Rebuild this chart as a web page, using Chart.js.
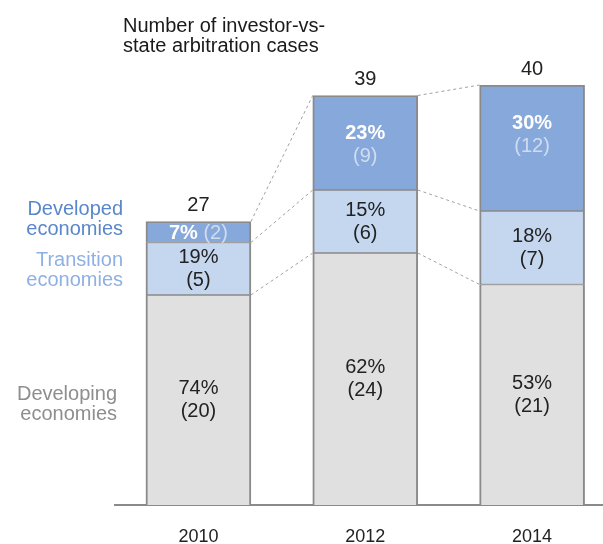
<!DOCTYPE html>
<html>
<head>
<meta charset="utf-8">
<script src="https://cdn.jsdelivr.net/npm/chart.js@4.4.1/dist/chart.umd.min.js"></script>
<style>
  html, body { margin: 0; padding: 0; background: #fff; overflow: hidden; }
</style>
</head>
<body>
<canvas id="casesChart" width="603" height="544"></canvas>
<script>
// Dane wykresu
const years = [2010, 2012, 2014];
const developing = [20, 24, 21];
const transition = [5, 6, 7];
const developed = [2, 9, 12];
const developingPct = ['74%', '62%', '53%'];
const transitionPct = ['19%', '15%', '18%'];
const developedPct = ['7%', '23%', '30%'];
const totals = [27, 39, 40];
const titleLines = ['Number of investor-vs-', 'state arbitration cases'];
const groupLabels = [
    ['Developing', 'economies'],
    ['Transition', 'economies'],
    ['Developed', 'economies']
];

const FONT = '"Liberation Sans", Arial, sans-serif';
const BORDER = '#8a8a8a';

// Plugin do rysowania etykiet, sum, linii łączących i tytułu
const annotations = {
    id: 'annotations',
    afterDatasetsDraw(chart) {
        const ctx = chart.ctx;
        const metas = [0, 1, 2].map(i => chart.getDatasetMeta(i));
        const pcts = [developingPct, transitionPct, developedPct];
        const counts = [developing, transition, developed];

        ctx.save();

        // Linie przerywane między słupkami
        ctx.strokeStyle = '#a0a0a0';
        ctx.lineWidth = 1;
        ctx.setLineDash([3, 3]);
        for (let j = 0; j < years.length - 1; j++) {
            metas.forEach(meta => {
                const a = meta.data[j];
                const b = meta.data[j + 1];
                ctx.beginPath();
                ctx.moveTo(a.x + a.width / 2, a.y);
                ctx.lineTo(b.x - b.width / 2, b.y);
                ctx.stroke();
            });
        }
        ctx.setLineDash([]);

        // Etykiety w segmentach
        ctx.textAlign = 'center';
        ctx.textBaseline = 'middle';
        metas.forEach((meta, i) => {
            meta.data.forEach((bar, j) => {
                const cy = (bar.y + bar.base) / 2;
                const pct = pcts[i][j];
                const cnt = '(' + counts[i][j] + ')';
                if (i === 2) {
                    if (j === 0) {
                        ctx.font = 'bold 20px ' + FONT;
                        const w1 = ctx.measureText(pct + ' ').width;
                        ctx.font = '20px ' + FONT;
                        const w2 = ctx.measureText(cnt).width;
                        const x0 = bar.x - (w1 + w2) / 2;
                        ctx.textAlign = 'left';
                        ctx.font = 'bold 20px ' + FONT;
                        ctx.fillStyle = '#ffffff';
                        ctx.fillText(pct, x0, cy + 1);
                        ctx.font = '20px ' + FONT;
                        ctx.fillStyle = 'rgba(255,255,255,0.6)';
                        ctx.fillText(cnt, x0 + w1, cy + 1);
                        ctx.textAlign = 'center';
                    } else {
                        // etykieta bliżej górnej krawędzi segmentu
                        const ty = bar.y + 38;
                        ctx.font = 'bold 20px ' + FONT;
                        ctx.fillStyle = '#ffffff';
                        ctx.fillText(pct, bar.x, ty);
                        ctx.font = '20px ' + FONT;
                        ctx.fillStyle = 'rgba(255,255,255,0.6)';
                        ctx.fillText(cnt, bar.x, ty + 23);
                    }
                } else {
                    ctx.font = '20px ' + FONT;
                    ctx.fillStyle = '#222222';
                    ctx.fillText(pct, bar.x, cy - 11.5);
                    ctx.fillText(cnt, bar.x, cy + 11.5);
                }
            });
        });

        // Sumy nad słupkami
        ctx.font = '20px ' + FONT;
        ctx.fillStyle = '#222222';
        metas[2].data.forEach((bar, j) => {
            ctx.fillText(String(totals[j]), bar.x, bar.y - 16);
        });

        // Opisy grup po lewej
        const labelColors = ['#8e8e8e', '#8fb0e2', '#5a87cb'];
        const labelRight = [117, 123, 123];
        const labelShift = [3, 0, -14];
        ctx.textAlign = 'right';
        ctx.textBaseline = 'alphabetic';
        metas.forEach((meta, i) => {
            const bar = meta.data[0];
            const cy = (bar.y + bar.base) / 2 + labelShift[i];
            ctx.fillStyle = labelColors[i];
            ctx.fillText(groupLabels[i][0], labelRight[i], cy - 3);
            ctx.fillText(groupLabels[i][1], labelRight[i], cy + 17);
        });

        // Tytuł
        ctx.textAlign = 'left';
        ctx.fillStyle = '#1a1a1a';
        ctx.fillText(titleLines[0], 123, 32);
        ctx.fillText(titleLines[1], 123, 52);

        ctx.restore();
    }
};

function renderCasesChart() {
    const ctx = document.getElementById('casesChart').getContext('2d');
    const common = {
        borderColor: BORDER,
        borderSkipped: false,
        barThickness: 105
    };

    new Chart(ctx, {
        type: 'bar',
        data: {
            labels: years,
            datasets: [
                Object.assign({
                    label: 'Developing economies',
                    data: developing,
                    backgroundColor: '#e0e0e0',
                    borderWidth: { top: 1, bottom: 0, left: 2, right: 2 }
                }, common),
                Object.assign({
                    label: 'Transition economies',
                    data: transition,
                    backgroundColor: '#c5d6ef',
                    borderWidth: { top: 1, bottom: 1, left: 2, right: 2 }
                }, common),
                Object.assign({
                    label: 'Developed economies',
                    data: developed,
                    backgroundColor: '#87a8da',
                    borderWidth: { top: 2, bottom: 1, left: 2, right: 2 }
                }, common)
            ]
        },
        options: {
            responsive: false,
            maintainAspectRatio: false,
            animation: false,
            layout: {
                padding: { left: 115, right: 0, top: 85, bottom: 0 }
            },
            plugins: {
                legend: { display: false },
                tooltip: { enabled: false },
                title: { display: false }
            },
            scales: {
                x: {
                    type: 'linear',
                    stacked: true,
                    offset: false,
                    min: 2009,
                    max: 2014.85,
                    grid: { display: false, drawTicks: false, offset: false },
                    border: { display: true, color: BORDER, width: 2 },
                    afterBuildTicks: scale => {
                        scale.ticks = years.map(v => ({ value: v }));
                    },
                    afterFit: scale => {
                        scale.height = 39;
                        scale.paddingLeft = 0;
                        scale.paddingRight = 0;
                    },
                    ticks: {
                        padding: 21,
                        color: '#222222',
                        font: { family: FONT, size: 18 },
                        callback: value => String(value)
                    }
                },
                y: {
                    stacked: true,
                    display: false,
                    min: 0,
                    max: 40
                }
            }
        },
        plugins: [annotations]
    });
}

renderCasesChart();
</script>
</body>
</html>
